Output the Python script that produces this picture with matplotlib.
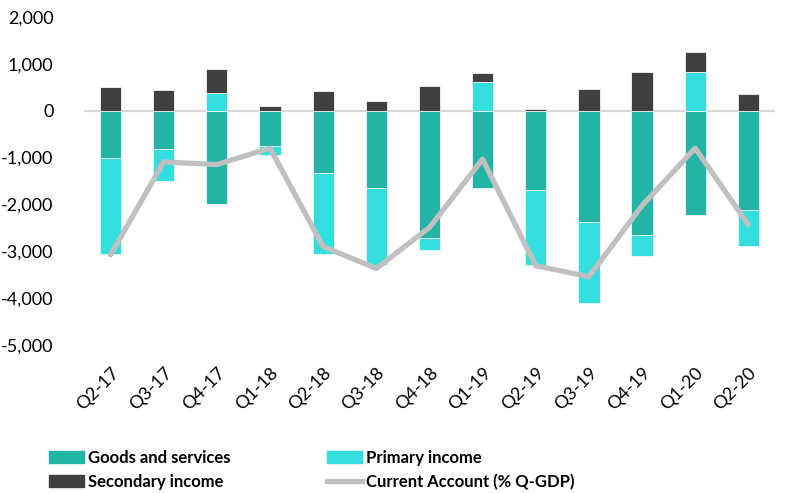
import matplotlib.pyplot as plt
import numpy as np
from matplotlib.patches import Patch
from matplotlib.lines import Line2D
from matplotlib.ticker import FuncFormatter

plt.rcParams['font.family'] = ['Lato', 'DejaVu Sans']

# ── Data (USD million, current account in % of quarterly GDP) ────────────────
quarters = ['Q2-17', 'Q3-17', 'Q4-17', 'Q1-18', 'Q2-18', 'Q3-18', 'Q4-18',
            'Q1-19', 'Q2-19', 'Q3-19', 'Q4-19', 'Q1-20', 'Q2-20']
goods_services = [-1010, -817, -1985, -753, -1330, -1650, -2717,
                  -1643, -1692, -2375, -2653, -2219, -2126]
primary_income = [-2040, -677, 371, -192, -1722, -1650, -256,
                  612, -1601, -1729, -441, 832, -755]
secondary_income = [512, 435, 512, 94, 427, 200, 527,
                    186, 36, 463, 832, 414, 350]
current_account = [-5.7, -2.3, -2.4, -1.8, -5.4, -6.2, -4.7,
                   -2.2, -6.1, -6.5, -3.9, -1.8, -4.6]

COL_GOODS = '#22b5a7'
COL_PRIMARY = '#33dede'
COL_SECONDARY = '#404040'
COL_CA = '#c0c0c0'

fig = plt.figure(figsize=(8.03, 4.93), dpi=100)
ax = fig.add_axes([0.1046, 0.3002, 0.8604, 0.6653])

x = np.arange(len(quarters))
width = 0.4

# Excel-style stacking: positives build up from zero, negatives build down
gs = np.array(goods_services, dtype=float)
pi = np.array(primary_income, dtype=float)
si = np.array(secondary_income, dtype=float)
pos_base = np.zeros(len(x))
neg_base = np.zeros(len(x))
for vals, col in [(gs, COL_GOODS), (pi, COL_PRIMARY), (si, COL_SECONDARY)]:
    base = np.where(vals >= 0, pos_base, neg_base)
    ax.bar(x, vals, width, bottom=base, color=col, edgecolor='#f4f4f4',
           linewidth=0.6, zorder=2)
    pos_base = pos_base + np.where(vals >= 0, vals, 0)
    neg_base = neg_base + np.where(vals < 0, vals, 0)

ax.axhline(0, color='#d9d9d9', linewidth=1.6, zorder=1)
ax.set_xlim(-0.5, len(x) - 0.5)
ax.set_ylim(-5000, 2000)
ax.set_yticks(np.arange(-5000, 2001, 1000))
ax.yaxis.set_major_formatter(FuncFormatter(lambda v, p: f'{v:,.0f}'))
ax.set_xticks(x)
ax.set_xticklabels(quarters, rotation=45, ha='right', rotation_mode='anchor')
for s in ax.spines.values():
    s.set_visible(False)
ax.tick_params(axis='y', length=0, labelsize=13, pad=22)
ax.tick_params(axis='x', length=0, labelsize=13, pad=14)

# Current account on the secondary axis (labels run off the right edge)
ax2 = ax.twinx()
ax2.plot(x, current_account, color=COL_CA, linewidth=3.8,
         solid_capstyle='round', solid_joinstyle='round', zorder=3)
ax2.set_ylim(-9, 3)
ax2.set_yticks(np.arange(-9, 4, 2))
ax2.yaxis.set_major_formatter(
    FuncFormatter(lambda v, p: f'{v:.0f}%' if v >= 0 else f'({abs(v):.0f}%)'))
for s in ax2.spines.values():
    s.set_visible(False)
ax2.tick_params(axis='y', length=0, labelsize=13, pad=22)

# legend fills column-wise, so order entries to read row by row
handles = [Patch(color=COL_GOODS), Patch(color=COL_SECONDARY),
           Patch(color=COL_PRIMARY),
           Line2D([0], [0], color=COL_CA, linewidth=3.8)]
labels = ['Goods and services', 'Secondary income', 'Primary income',
          'Current Account (% Q-GDP)']
leg = fig.legend(handles, labels, ncol=2, loc='upper left',
                 bbox_to_anchor=(49 / 803, 1 - 450 / 493), frameon=False,
                 prop={'weight': 'bold', 'size': 12},
                 columnspacing=5.8, handlelength=2.1, handletextpad=0.25,
                 labelspacing=0.45, borderpad=0, borderaxespad=0)

fig.savefig('out.png', dpi=100)
